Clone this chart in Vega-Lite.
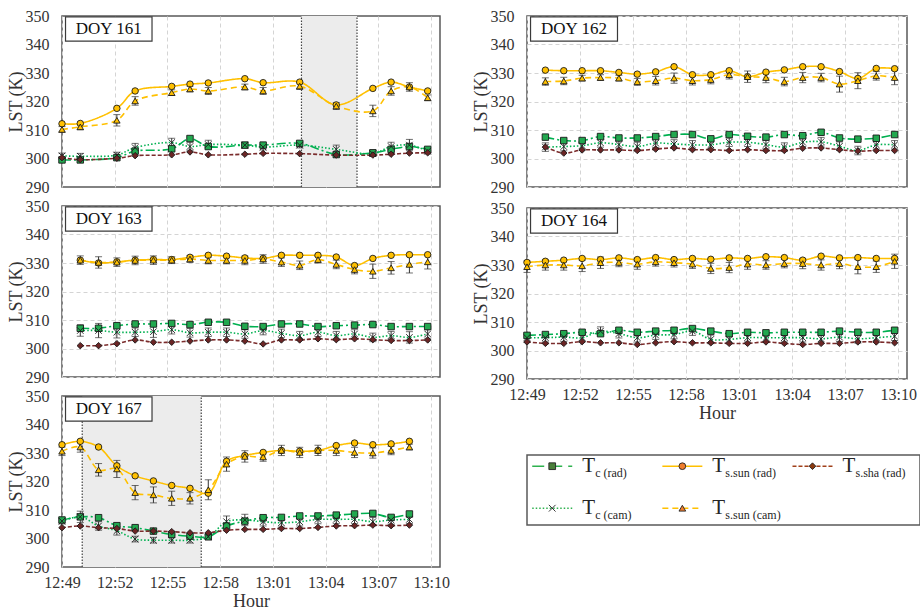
{
"$schema": "https://vega.github.io/schema/vega-lite/v6.json",
"background": "white",
"padding": {"left": 6, "top": 7, "right": 0, "bottom": 0},
"datasets": {
"shade": [{"doy":161,"t":62.62,"t2":65.78},{"doy":167,"t":50.15,"t2":56.92}],
"labels": [{"doy":161,"label":"DOY 161"},{"doy":162,"label":"DOY 162"},{"doy":163,"label":"DOY 163"},{"doy":164,"label":"DOY 164"},{"doy":167,"label":"DOY 167"}],
"legend": [
{"s":"Tc_rad","var":"Tc","src":"rad","main":"T","sub":"c (rad)"},
{"s":"Tsun_rad","var":"Tsun","src":"rad","main":"T","sub":"s.sun (rad)"},
{"s":"Tsha_rad","var":"Tsha","src":"rad","main":"T","sub":"s.sha (rad)"},
{"s":"Tc_cam","var":"Tc","src":"cam","main":"T","sub":"c (cam)"},
{"s":"Tsun_cam","var":"Tsun","src":"cam","main":"T","sub":"s.sun (cam)"}
],
"lst": [
{"doy":161,"t":49,"s":"Tc_rad","v":299.5},{"doy":161,"t":50.04,"s":"Tc_rad","v":299.5},{"doy":161,"t":52.12,"s":"Tc_rad","v":300.3},{"doy":161,"t":53.16,"s":"Tc_rad","v":302.6},{"doy":161,"t":55.24,"s":"Tc_rad","v":303.4},{"doy":161,"t":56.28,"s":"Tc_rad","v":307.0},{"doy":161,"t":57.32,"s":"Tc_rad","v":304.2},{"doy":161,"t":59.4,"s":"Tc_rad","v":304.7},{"doy":161,"t":60.44,"s":"Tc_rad","v":304.7},{"doy":161,"t":62.52,"s":"Tc_rad","v":305.3},{"doy":161,"t":64.6,"s":"Tc_rad","v":301.4},{"doy":161,"t":66.68,"s":"Tc_rad","v":302.0},{"doy":161,"t":67.72,"s":"Tc_rad","v":303.2},{"doy":161,"t":68.76,"s":"Tc_rad","v":304.2},{"doy":161,"t":69.8,"s":"Tc_rad","v":303.2},
{"doy":161,"t":49,"s":"Tc_cam","v":300.9,"e":1},{"doy":161,"t":50.04,"s":"Tc_cam","v":300.8,"e":1},{"doy":161,"t":52.12,"s":"Tc_cam","v":301.2,"e":1},{"doy":161,"t":53.16,"s":"Tc_cam","v":303.8,"e":1.5},{"doy":161,"t":55.24,"s":"Tc_cam","v":305.6,"e":1.5},{"doy":161,"t":56.28,"s":"Tc_cam","v":304.2,"e":1.5},{"doy":161,"t":57.32,"s":"Tc_cam","v":304.9,"e":1.5},{"doy":161,"t":59.4,"s":"Tc_cam","v":304.7,"e":1},{"doy":161,"t":60.44,"s":"Tc_cam","v":304.0,"e":1},{"doy":161,"t":62.52,"s":"Tc_cam","v":304.7,"e":1},{"doy":161,"t":64.6,"s":"Tc_cam","v":303.2,"e":1.5},{"doy":161,"t":66.68,"s":"Tc_cam","v":301.7,"e":1},{"doy":161,"t":67.72,"s":"Tc_cam","v":304.2,"e":1.5},{"doy":161,"t":68.76,"s":"Tc_cam","v":304.7,"e":2},{"doy":161,"t":69.8,"s":"Tc_cam","v":302.6,"e":1},
{"doy":161,"t":49,"s":"Tsun_rad","v":312.2},{"doy":161,"t":50.04,"s":"Tsun_rad","v":312.3},{"doy":161,"t":52.12,"s":"Tsun_rad","v":317.6},{"doy":161,"t":53.16,"s":"Tsun_rad","v":323.7},{"doy":161,"t":55.24,"s":"Tsun_rad","v":325.3},{"doy":161,"t":56.28,"s":"Tsun_rad","v":326.1},{"doy":161,"t":57.32,"s":"Tsun_rad","v":326.5},{"doy":161,"t":59.4,"s":"Tsun_rad","v":328.0},{"doy":161,"t":60.44,"s":"Tsun_rad","v":326.6},{"doy":161,"t":62.52,"s":"Tsun_rad","v":326.8},{"doy":161,"t":64.6,"s":"Tsun_rad","v":318.8},{"doy":161,"t":66.68,"s":"Tsun_rad","v":324.6},{"doy":161,"t":67.72,"s":"Tsun_rad","v":326.8},{"doy":161,"t":68.76,"s":"Tsun_rad","v":325.1},{"doy":161,"t":69.8,"s":"Tsun_rad","v":323.7},
{"doy":161,"t":49,"s":"Tsun_cam","v":310.2,"e":1},{"doy":161,"t":50.04,"s":"Tsun_cam","v":311.1,"e":1},{"doy":161,"t":52.12,"s":"Tsun_cam","v":313.4,"e":2},{"doy":161,"t":53.16,"s":"Tsun_cam","v":320.2,"e":1.5},{"doy":161,"t":55.24,"s":"Tsun_cam","v":323.1,"e":1},{"doy":161,"t":56.28,"s":"Tsun_cam","v":324.4,"e":1},{"doy":161,"t":57.32,"s":"Tsun_cam","v":323.7,"e":1.2},{"doy":161,"t":59.4,"s":"Tsun_cam","v":325.1,"e":1},{"doy":161,"t":60.44,"s":"Tsun_cam","v":323.7,"e":1.2},{"doy":161,"t":62.52,"s":"Tsun_cam","v":325.4,"e":1.2},{"doy":161,"t":64.6,"s":"Tsun_cam","v":318.4,"e":1.2},{"doy":161,"t":66.68,"s":"Tsun_cam","v":316.7,"e":2},{"doy":161,"t":67.72,"s":"Tsun_cam","v":323.7,"e":1.5},{"doy":161,"t":68.76,"s":"Tsun_cam","v":325.1,"e":1.5},{"doy":161,"t":69.8,"s":"Tsun_cam","v":321.3,"e":1},
{"doy":161,"t":49,"s":"Tsha_rad","v":300.3},{"doy":161,"t":50.04,"s":"Tsha_rad","v":299.6},{"doy":161,"t":52.12,"s":"Tsha_rad","v":300.1},{"doy":161,"t":53.16,"s":"Tsha_rad","v":301.0},{"doy":161,"t":55.24,"s":"Tsha_rad","v":301.3},{"doy":161,"t":56.28,"s":"Tsha_rad","v":302.3},{"doy":161,"t":57.32,"s":"Tsha_rad","v":301.3},{"doy":161,"t":59.4,"s":"Tsha_rad","v":301.5},{"doy":161,"t":60.44,"s":"Tsha_rad","v":301.8},{"doy":161,"t":62.52,"s":"Tsha_rad","v":301.7},{"doy":161,"t":64.6,"s":"Tsha_rad","v":301.2},{"doy":161,"t":66.68,"s":"Tsha_rad","v":301.2},{"doy":161,"t":67.72,"s":"Tsha_rad","v":301.5},{"doy":161,"t":68.76,"s":"Tsha_rad","v":301.9},{"doy":161,"t":69.8,"s":"Tsha_rad","v":302.0},

{"doy":162,"t":50.04,"s":"Tsun_rad","v":331.0},{"doy":162,"t":51.08,"s":"Tsun_rad","v":330.8},{"doy":162,"t":52.12,"s":"Tsun_rad","v":330.8},{"doy":162,"t":53.16,"s":"Tsun_rad","v":330.8},{"doy":162,"t":54.2,"s":"Tsun_rad","v":330.2},{"doy":162,"t":55.24,"s":"Tsun_rad","v":329.6},{"doy":162,"t":56.28,"s":"Tsun_rad","v":330.4},{"doy":162,"t":57.32,"s":"Tsun_rad","v":332.2},{"doy":162,"t":58.36,"s":"Tsun_rad","v":329.4},{"doy":162,"t":59.4,"s":"Tsun_rad","v":329.4},{"doy":162,"t":60.44,"s":"Tsun_rad","v":330.8},{"doy":162,"t":61.48,"s":"Tsun_rad","v":328.7},{"doy":162,"t":62.52,"s":"Tsun_rad","v":330.3},{"doy":162,"t":63.56,"s":"Tsun_rad","v":331.1},{"doy":162,"t":64.6,"s":"Tsun_rad","v":332.2},{"doy":162,"t":65.64,"s":"Tsun_rad","v":332.2},{"doy":162,"t":66.68,"s":"Tsun_rad","v":330.5},{"doy":162,"t":67.72,"s":"Tsun_rad","v":328.1},{"doy":162,"t":68.76,"s":"Tsun_rad","v":331.6},{"doy":162,"t":69.8,"s":"Tsun_rad","v":331.5},
{"doy":162,"t":50.04,"s":"Tsun_cam","v":327.0,"e":1.3},{"doy":162,"t":51.08,"s":"Tsun_cam","v":327.2,"e":1.3},{"doy":162,"t":52.12,"s":"Tsun_cam","v":328.2,"e":1},{"doy":162,"t":53.16,"s":"Tsun_cam","v":328.4,"e":1},{"doy":162,"t":54.2,"s":"Tsun_cam","v":328.2,"e":1},{"doy":162,"t":55.24,"s":"Tsun_cam","v":326.9,"e":1.2},{"doy":162,"t":56.28,"s":"Tsun_cam","v":327.3,"e":1.5},{"doy":162,"t":57.32,"s":"Tsun_cam","v":328.2,"e":1.8},{"doy":162,"t":58.36,"s":"Tsun_cam","v":327.3,"e":1.5},{"doy":162,"t":59.4,"s":"Tsun_cam","v":327.7,"e":1.5},{"doy":162,"t":60.44,"s":"Tsun_cam","v":329.4,"e":1.5},{"doy":162,"t":61.48,"s":"Tsun_cam","v":328.7,"e":2},{"doy":162,"t":62.52,"s":"Tsun_cam","v":328.4,"e":1.8},{"doy":162,"t":63.56,"s":"Tsun_cam","v":327.0,"e":1.5},{"doy":162,"t":64.6,"s":"Tsun_cam","v":328.4,"e":1.8},{"doy":162,"t":65.64,"s":"Tsun_cam","v":328.4,"e":1.5},{"doy":162,"t":66.68,"s":"Tsun_cam","v":326.1,"e":2.8},{"doy":162,"t":67.72,"s":"Tsun_cam","v":327.3,"e":2.8},{"doy":162,"t":68.76,"s":"Tsun_cam","v":329.0,"e":1.5},{"doy":162,"t":69.8,"s":"Tsun_cam","v":328.4,"e":2.5},
{"doy":162,"t":50.04,"s":"Tc_rad","v":307.5},{"doy":162,"t":51.08,"s":"Tc_rad","v":306.3},{"doy":162,"t":52.12,"s":"Tc_rad","v":306.3},{"doy":162,"t":53.16,"s":"Tc_rad","v":307.7},{"doy":162,"t":54.2,"s":"Tc_rad","v":307.2},{"doy":162,"t":55.24,"s":"Tc_rad","v":307.2},{"doy":162,"t":56.28,"s":"Tc_rad","v":307.7},{"doy":162,"t":57.32,"s":"Tc_rad","v":308.4},{"doy":162,"t":58.36,"s":"Tc_rad","v":308.4},{"doy":162,"t":59.4,"s":"Tc_rad","v":306.9},{"doy":162,"t":60.44,"s":"Tc_rad","v":308.4},{"doy":162,"t":61.48,"s":"Tc_rad","v":307.8},{"doy":162,"t":62.52,"s":"Tc_rad","v":307.5},{"doy":162,"t":63.56,"s":"Tc_rad","v":308.4},{"doy":162,"t":64.6,"s":"Tc_rad","v":308.0},{"doy":162,"t":65.64,"s":"Tc_rad","v":309.2},{"doy":162,"t":66.68,"s":"Tc_rad","v":307.2},{"doy":162,"t":67.72,"s":"Tc_rad","v":306.8},{"doy":162,"t":68.76,"s":"Tc_rad","v":307.1},{"doy":162,"t":69.8,"s":"Tc_rad","v":308.4},
{"doy":162,"t":50.04,"s":"Tc_cam","v":304.0,"e":1.5},{"doy":162,"t":51.08,"s":"Tc_cam","v":304.2,"e":1.5},{"doy":162,"t":52.12,"s":"Tc_cam","v":304.5,"e":1.5},{"doy":162,"t":53.16,"s":"Tc_cam","v":305.5,"e":1.5},{"doy":162,"t":54.2,"s":"Tc_cam","v":304.9,"e":1.5},{"doy":162,"t":55.24,"s":"Tc_cam","v":304.2,"e":1.5},{"doy":162,"t":56.28,"s":"Tc_cam","v":305.4,"e":1.5},{"doy":162,"t":57.32,"s":"Tc_cam","v":305.1,"e":1.5},{"doy":162,"t":58.36,"s":"Tc_cam","v":304.8,"e":1.5},{"doy":162,"t":59.4,"s":"Tc_cam","v":304.8,"e":1.5},{"doy":162,"t":60.44,"s":"Tc_cam","v":305.7,"e":1.5},{"doy":162,"t":61.48,"s":"Tc_cam","v":305.7,"e":1.5},{"doy":162,"t":62.52,"s":"Tc_cam","v":304.9,"e":1.5},{"doy":162,"t":63.56,"s":"Tc_cam","v":304.0,"e":1.5},{"doy":162,"t":64.6,"s":"Tc_cam","v":305.7,"e":1.5},{"doy":162,"t":65.64,"s":"Tc_cam","v":305.9,"e":1.5},{"doy":162,"t":66.68,"s":"Tc_cam","v":304.3,"e":1.5},{"doy":162,"t":67.72,"s":"Tc_cam","v":302.8,"e":1.5},{"doy":162,"t":68.76,"s":"Tc_cam","v":304.8,"e":1.5},{"doy":162,"t":69.8,"s":"Tc_cam","v":304.8,"e":1.5},
{"doy":162,"t":50.04,"s":"Tsha_rad","v":304.0},{"doy":162,"t":51.08,"s":"Tsha_rad","v":301.9},{"doy":162,"t":52.12,"s":"Tsha_rad","v":303.0},{"doy":162,"t":53.16,"s":"Tsha_rad","v":303.0},{"doy":162,"t":54.2,"s":"Tsha_rad","v":303.0},{"doy":162,"t":55.24,"s":"Tsha_rad","v":302.8},{"doy":162,"t":56.28,"s":"Tsha_rad","v":303.3},{"doy":162,"t":57.32,"s":"Tsha_rad","v":303.7},{"doy":162,"t":58.36,"s":"Tsha_rad","v":303.1},{"doy":162,"t":59.4,"s":"Tsha_rad","v":303.1},{"doy":162,"t":60.44,"s":"Tsha_rad","v":302.8},{"doy":162,"t":61.48,"s":"Tsha_rad","v":303.1},{"doy":162,"t":62.52,"s":"Tsha_rad","v":302.8},{"doy":162,"t":63.56,"s":"Tsha_rad","v":302.8},{"doy":162,"t":64.6,"s":"Tsha_rad","v":303.6},{"doy":162,"t":65.64,"s":"Tsha_rad","v":303.7},{"doy":162,"t":66.68,"s":"Tsha_rad","v":303.1},{"doy":162,"t":67.72,"s":"Tsha_rad","v":302.6},{"doy":162,"t":68.76,"s":"Tsha_rad","v":302.8},{"doy":162,"t":69.8,"s":"Tsha_rad","v":302.8},

{"doy":163,"t":50.04,"s":"Tsun_rad","v":331.0},{"doy":163,"t":51.08,"s":"Tsun_rad","v":330.0},{"doy":163,"t":52.12,"s":"Tsun_rad","v":330.4},{"doy":163,"t":53.16,"s":"Tsun_rad","v":331.0},{"doy":163,"t":54.2,"s":"Tsun_rad","v":331.2},{"doy":163,"t":55.24,"s":"Tsun_rad","v":331.2},{"doy":163,"t":56.28,"s":"Tsun_rad","v":332.0},{"doy":163,"t":57.32,"s":"Tsun_rad","v":332.7},{"doy":163,"t":58.36,"s":"Tsun_rad","v":332.4},{"doy":163,"t":59.4,"s":"Tsun_rad","v":331.8},{"doy":163,"t":60.44,"s":"Tsun_rad","v":331.6},{"doy":163,"t":61.48,"s":"Tsun_rad","v":332.7},{"doy":163,"t":62.52,"s":"Tsun_rad","v":332.7},{"doy":163,"t":63.56,"s":"Tsun_rad","v":332.7},{"doy":163,"t":64.6,"s":"Tsun_rad","v":332.1},{"doy":163,"t":65.64,"s":"Tsun_rad","v":329.1},{"doy":163,"t":66.68,"s":"Tsun_rad","v":331.6},{"doy":163,"t":67.72,"s":"Tsun_rad","v":332.7},{"doy":163,"t":68.76,"s":"Tsun_rad","v":332.9},{"doy":163,"t":69.8,"s":"Tsun_rad","v":332.9},
{"doy":163,"t":50.04,"s":"Tsun_cam","v":331.0,"e":1.5},{"doy":163,"t":51.08,"s":"Tsun_cam","v":330.2,"e":2},{"doy":163,"t":52.12,"s":"Tsun_cam","v":330.3,"e":1.5},{"doy":163,"t":53.16,"s":"Tsun_cam","v":330.9,"e":1.5},{"doy":163,"t":54.2,"s":"Tsun_cam","v":331.0,"e":1.5},{"doy":163,"t":55.24,"s":"Tsun_cam","v":331.0,"e":1.2},{"doy":163,"t":56.28,"s":"Tsun_cam","v":331.4,"e":1.2},{"doy":163,"t":57.32,"s":"Tsun_cam","v":330.9,"e":1.2},{"doy":163,"t":58.36,"s":"Tsun_cam","v":330.9,"e":1.2},{"doy":163,"t":59.4,"s":"Tsun_cam","v":330.9,"e":1.5},{"doy":163,"t":60.44,"s":"Tsun_cam","v":331.4,"e":1.5},{"doy":163,"t":61.48,"s":"Tsun_cam","v":330.3,"e":1.5},{"doy":163,"t":62.52,"s":"Tsun_cam","v":329.2,"e":1.5},{"doy":163,"t":63.56,"s":"Tsun_cam","v":331.2,"e":1.2},{"doy":163,"t":64.6,"s":"Tsun_cam","v":329.5,"e":1.5},{"doy":163,"t":65.64,"s":"Tsun_cam","v":327.7,"e":1.5},{"doy":163,"t":66.68,"s":"Tsun_cam","v":327.1,"e":2.5},{"doy":163,"t":67.72,"s":"Tsun_cam","v":328.3,"e":2.2},{"doy":163,"t":68.76,"s":"Tsun_cam","v":329.5,"e":3},{"doy":163,"t":69.8,"s":"Tsun_cam","v":330.4,"e":2.5},
{"doy":163,"t":50.04,"s":"Tc_rad","v":307.1},{"doy":163,"t":51.08,"s":"Tc_rad","v":307.1},{"doy":163,"t":52.12,"s":"Tc_rad","v":308.0},{"doy":163,"t":53.16,"s":"Tc_rad","v":308.6},{"doy":163,"t":54.2,"s":"Tc_rad","v":308.6},{"doy":163,"t":55.24,"s":"Tc_rad","v":308.8},{"doy":163,"t":56.28,"s":"Tc_rad","v":308.4},{"doy":163,"t":57.32,"s":"Tc_rad","v":309.2},{"doy":163,"t":58.36,"s":"Tc_rad","v":309.2},{"doy":163,"t":59.4,"s":"Tc_rad","v":307.8},{"doy":163,"t":60.44,"s":"Tc_rad","v":307.7},{"doy":163,"t":61.48,"s":"Tc_rad","v":308.6},{"doy":163,"t":62.52,"s":"Tc_rad","v":308.6},{"doy":163,"t":63.56,"s":"Tc_rad","v":307.7},{"doy":163,"t":64.6,"s":"Tc_rad","v":308.0},{"doy":163,"t":65.64,"s":"Tc_rad","v":308.2},{"doy":163,"t":66.68,"s":"Tc_rad","v":308.4},{"doy":163,"t":67.72,"s":"Tc_rad","v":307.7},{"doy":163,"t":68.76,"s":"Tc_rad","v":307.7},{"doy":163,"t":69.8,"s":"Tc_rad","v":307.7},
{"doy":163,"t":50.04,"s":"Tc_cam","v":306.3,"e":2},{"doy":163,"t":51.08,"s":"Tc_cam","v":306.3,"e":2.5},{"doy":163,"t":52.12,"s":"Tc_cam","v":305.7,"e":2},{"doy":163,"t":53.16,"s":"Tc_cam","v":305.7,"e":1.5},{"doy":163,"t":54.2,"s":"Tc_cam","v":305.9,"e":2},{"doy":163,"t":55.24,"s":"Tc_cam","v":306.6,"e":1.5},{"doy":163,"t":56.28,"s":"Tc_cam","v":305.5,"e":1.5},{"doy":163,"t":57.32,"s":"Tc_cam","v":305.7,"e":1.5},{"doy":163,"t":58.36,"s":"Tc_cam","v":305.7,"e":1.5},{"doy":163,"t":59.4,"s":"Tc_cam","v":305.1,"e":1.5},{"doy":163,"t":60.44,"s":"Tc_cam","v":306.3,"e":1.5},{"doy":163,"t":61.48,"s":"Tc_cam","v":305.3,"e":1.5},{"doy":163,"t":62.52,"s":"Tc_cam","v":304.5,"e":1.5},{"doy":163,"t":63.56,"s":"Tc_cam","v":305.7,"e":1.5},{"doy":163,"t":64.6,"s":"Tc_cam","v":304.5,"e":1.5},{"doy":163,"t":65.64,"s":"Tc_cam","v":305.1,"e":1.5},{"doy":163,"t":66.68,"s":"Tc_cam","v":303.9,"e":1.5},{"doy":163,"t":67.72,"s":"Tc_cam","v":304.5,"e":1.5},{"doy":163,"t":68.76,"s":"Tc_cam","v":303.9,"e":2},{"doy":163,"t":69.8,"s":"Tc_cam","v":305.1,"e":1.5},
{"doy":163,"t":50.04,"s":"Tsha_rad","v":301.0},{"doy":163,"t":51.08,"s":"Tsha_rad","v":301.0},{"doy":163,"t":52.12,"s":"Tsha_rad","v":301.7},{"doy":163,"t":53.16,"s":"Tsha_rad","v":303.0},{"doy":163,"t":54.2,"s":"Tsha_rad","v":302.2},{"doy":163,"t":55.24,"s":"Tsha_rad","v":302.2},{"doy":163,"t":56.28,"s":"Tsha_rad","v":302.6},{"doy":163,"t":57.32,"s":"Tsha_rad","v":303.0},{"doy":163,"t":58.36,"s":"Tsha_rad","v":303.0},{"doy":163,"t":59.4,"s":"Tsha_rad","v":302.6},{"doy":163,"t":60.44,"s":"Tsha_rad","v":301.6},{"doy":163,"t":61.48,"s":"Tsha_rad","v":303.0},{"doy":163,"t":62.52,"s":"Tsha_rad","v":303.0},{"doy":163,"t":63.56,"s":"Tsha_rad","v":303.4},{"doy":163,"t":64.6,"s":"Tsha_rad","v":303.1},{"doy":163,"t":65.64,"s":"Tsha_rad","v":303.4},{"doy":163,"t":66.68,"s":"Tsha_rad","v":303.1},{"doy":163,"t":67.72,"s":"Tsha_rad","v":302.8},{"doy":163,"t":68.76,"s":"Tsha_rad","v":302.8},{"doy":163,"t":69.8,"s":"Tsha_rad","v":303.0},

{"doy":164,"t":49,"s":"Tsun_rad","v":330.9},{"doy":164,"t":50.04,"s":"Tsun_rad","v":331.3},{"doy":164,"t":51.08,"s":"Tsun_rad","v":331.7},{"doy":164,"t":52.12,"s":"Tsun_rad","v":332.3},{"doy":164,"t":53.16,"s":"Tsun_rad","v":331.9},{"doy":164,"t":54.2,"s":"Tsun_rad","v":332.5},{"doy":164,"t":55.24,"s":"Tsun_rad","v":331.9},{"doy":164,"t":56.28,"s":"Tsun_rad","v":332.6},{"doy":164,"t":57.32,"s":"Tsun_rad","v":331.9},{"doy":164,"t":58.36,"s":"Tsun_rad","v":332.3},{"doy":164,"t":59.4,"s":"Tsun_rad","v":332.0},{"doy":164,"t":60.44,"s":"Tsun_rad","v":332.5},{"doy":164,"t":61.48,"s":"Tsun_rad","v":332.3},{"doy":164,"t":62.52,"s":"Tsun_rad","v":332.9},{"doy":164,"t":63.56,"s":"Tsun_rad","v":332.6},{"doy":164,"t":64.6,"s":"Tsun_rad","v":331.7},{"doy":164,"t":65.64,"s":"Tsun_rad","v":333.1},{"doy":164,"t":66.68,"s":"Tsun_rad","v":332.5},{"doy":164,"t":67.72,"s":"Tsun_rad","v":332.6},{"doy":164,"t":68.76,"s":"Tsun_rad","v":332.3},{"doy":164,"t":69.8,"s":"Tsun_rad","v":332.3},
{"doy":164,"t":49,"s":"Tsun_cam","v":329.4,"e":2},{"doy":164,"t":50.04,"s":"Tsun_cam","v":330.0,"e":1.8},{"doy":164,"t":51.08,"s":"Tsun_cam","v":330.0,"e":1.8},{"doy":164,"t":52.12,"s":"Tsun_cam","v":329.7,"e":2},{"doy":164,"t":53.16,"s":"Tsun_cam","v":330.8,"e":2},{"doy":164,"t":54.2,"s":"Tsun_cam","v":330.9,"e":1.5},{"doy":164,"t":55.24,"s":"Tsun_cam","v":330.3,"e":1.8},{"doy":164,"t":56.28,"s":"Tsun_cam","v":331.1,"e":1.5},{"doy":164,"t":57.32,"s":"Tsun_cam","v":330.8,"e":1.5},{"doy":164,"t":58.36,"s":"Tsun_cam","v":330.3,"e":1.5},{"doy":164,"t":59.4,"s":"Tsun_cam","v":328.8,"e":1.8},{"doy":164,"t":60.44,"s":"Tsun_cam","v":329.1,"e":1.8},{"doy":164,"t":61.48,"s":"Tsun_cam","v":330.3,"e":1.8},{"doy":164,"t":62.52,"s":"Tsun_cam","v":330.0,"e":1.5},{"doy":164,"t":63.56,"s":"Tsun_cam","v":330.5,"e":1.5},{"doy":164,"t":64.6,"s":"Tsun_cam","v":330.5,"e":1.8},{"doy":164,"t":65.64,"s":"Tsun_cam","v":330.0,"e":1.8},{"doy":164,"t":66.68,"s":"Tsun_cam","v":330.5,"e":1.8},{"doy":164,"t":67.72,"s":"Tsun_cam","v":329.4,"e":2.5},{"doy":164,"t":68.76,"s":"Tsun_cam","v":329.4,"e":2},{"doy":164,"t":69.8,"s":"Tsun_cam","v":331.3,"e":2.5},
{"doy":164,"t":49,"s":"Tc_rad","v":305.3},{"doy":164,"t":50.04,"s":"Tc_rad","v":305.6},{"doy":164,"t":51.08,"s":"Tc_rad","v":305.9},{"doy":164,"t":52.12,"s":"Tc_rad","v":306.4},{"doy":164,"t":53.16,"s":"Tc_rad","v":305.9},{"doy":164,"t":54.2,"s":"Tc_rad","v":307.1},{"doy":164,"t":55.24,"s":"Tc_rad","v":306.4},{"doy":164,"t":56.28,"s":"Tc_rad","v":306.8},{"doy":164,"t":57.32,"s":"Tc_rad","v":307.1},{"doy":164,"t":58.36,"s":"Tc_rad","v":307.7},{"doy":164,"t":59.4,"s":"Tc_rad","v":306.8},{"doy":164,"t":60.44,"s":"Tc_rad","v":305.9},{"doy":164,"t":61.48,"s":"Tc_rad","v":306.4},{"doy":164,"t":62.52,"s":"Tc_rad","v":306.2},{"doy":164,"t":63.56,"s":"Tc_rad","v":306.4},{"doy":164,"t":64.6,"s":"Tc_rad","v":306.4},{"doy":164,"t":65.64,"s":"Tc_rad","v":306.4},{"doy":164,"t":66.68,"s":"Tc_rad","v":306.8},{"doy":164,"t":67.72,"s":"Tc_rad","v":306.4},{"doy":164,"t":68.76,"s":"Tc_rad","v":306.4},{"doy":164,"t":69.8,"s":"Tc_rad","v":307.1},
{"doy":164,"t":49,"s":"Tc_cam","v":304.5,"e":1.5},{"doy":164,"t":50.04,"s":"Tc_cam","v":304.5,"e":1.5},{"doy":164,"t":51.08,"s":"Tc_cam","v":304.7,"e":1.5},{"doy":164,"t":52.12,"s":"Tc_cam","v":304.5,"e":1.5},{"doy":164,"t":53.16,"s":"Tc_cam","v":306.8,"e":1.5},{"doy":164,"t":54.2,"s":"Tc_cam","v":305.9,"e":1.5},{"doy":164,"t":55.24,"s":"Tc_cam","v":304.5,"e":1.5},{"doy":164,"t":56.28,"s":"Tc_cam","v":305.4,"e":1.5},{"doy":164,"t":57.32,"s":"Tc_cam","v":305.6,"e":1.5},{"doy":164,"t":58.36,"s":"Tc_cam","v":306.8,"e":1.5},{"doy":164,"t":59.4,"s":"Tc_cam","v":303.9,"e":1.5},{"doy":164,"t":60.44,"s":"Tc_cam","v":303.9,"e":1.5},{"doy":164,"t":61.48,"s":"Tc_cam","v":304.5,"e":1.5},{"doy":164,"t":62.52,"s":"Tc_cam","v":304.5,"e":1.5},{"doy":164,"t":63.56,"s":"Tc_cam","v":304.5,"e":1.5},{"doy":164,"t":64.6,"s":"Tc_cam","v":304.5,"e":1.5},{"doy":164,"t":65.64,"s":"Tc_cam","v":304.1,"e":1.5},{"doy":164,"t":66.68,"s":"Tc_cam","v":304.7,"e":1.5},{"doy":164,"t":67.72,"s":"Tc_cam","v":304.1,"e":1.5},{"doy":164,"t":68.76,"s":"Tc_cam","v":304.5,"e":1.5},{"doy":164,"t":69.8,"s":"Tc_cam","v":305.0,"e":1.5},
{"doy":164,"t":49,"s":"Tsha_rad","v":303.0},{"doy":164,"t":50.04,"s":"Tsha_rad","v":302.5},{"doy":164,"t":51.08,"s":"Tsha_rad","v":302.5},{"doy":164,"t":52.12,"s":"Tsha_rad","v":303.1},{"doy":164,"t":53.16,"s":"Tsha_rad","v":302.7},{"doy":164,"t":54.2,"s":"Tsha_rad","v":302.7},{"doy":164,"t":55.24,"s":"Tsha_rad","v":302.1},{"doy":164,"t":56.28,"s":"Tsha_rad","v":302.7},{"doy":164,"t":57.32,"s":"Tsha_rad","v":303.1},{"doy":164,"t":58.36,"s":"Tsha_rad","v":302.7},{"doy":164,"t":59.4,"s":"Tsha_rad","v":302.7},{"doy":164,"t":60.44,"s":"Tsha_rad","v":302.5},{"doy":164,"t":61.48,"s":"Tsha_rad","v":302.5},{"doy":164,"t":62.52,"s":"Tsha_rad","v":303.0},{"doy":164,"t":63.56,"s":"Tsha_rad","v":302.5},{"doy":164,"t":64.6,"s":"Tsha_rad","v":302.1},{"doy":164,"t":65.64,"s":"Tsha_rad","v":302.5},{"doy":164,"t":66.68,"s":"Tsha_rad","v":302.5},{"doy":164,"t":67.72,"s":"Tsha_rad","v":303.0},{"doy":164,"t":68.76,"s":"Tsha_rad","v":303.0},{"doy":164,"t":69.8,"s":"Tsha_rad","v":302.7},

{"doy":167,"t":49,"s":"Tsun_rad","v":332.9},{"doy":167,"t":50.04,"s":"Tsun_rad","v":334.1},{"doy":167,"t":51.08,"s":"Tsun_rad","v":332.1},{"doy":167,"t":52.12,"s":"Tsun_rad","v":325.5},{"doy":167,"t":53.16,"s":"Tsun_rad","v":322.0},{"doy":167,"t":54.2,"s":"Tsun_rad","v":320.2},{"doy":167,"t":55.24,"s":"Tsun_rad","v":318.6},{"doy":167,"t":56.28,"s":"Tsun_rad","v":317.6},{"doy":167,"t":57.32,"s":"Tsun_rad","v":315.9},{"doy":167,"t":58.36,"s":"Tsun_rad","v":327.1},{"doy":167,"t":59.4,"s":"Tsun_rad","v":329.1},{"doy":167,"t":60.44,"s":"Tsun_rad","v":330.2},{"doy":167,"t":61.48,"s":"Tsun_rad","v":330.9},{"doy":167,"t":62.52,"s":"Tsun_rad","v":330.6},{"doy":167,"t":63.56,"s":"Tsun_rad","v":330.9},{"doy":167,"t":64.6,"s":"Tsun_rad","v":332.6},{"doy":167,"t":65.64,"s":"Tsun_rad","v":333.5},{"doy":167,"t":66.68,"s":"Tsun_rad","v":332.9},{"doy":167,"t":67.72,"s":"Tsun_rad","v":333.2},{"doy":167,"t":68.76,"s":"Tsun_rad","v":334.1},
{"doy":167,"t":49,"s":"Tsun_cam","v":330.6,"e":1.5},{"doy":167,"t":50.04,"s":"Tsun_cam","v":332.1,"e":1.8},{"doy":167,"t":51.08,"s":"Tsun_cam","v":324.1,"e":2.2},{"doy":167,"t":52.12,"s":"Tsun_cam","v":324.4,"e":3},{"doy":167,"t":53.16,"s":"Tsun_cam","v":316.1,"e":2.5},{"doy":167,"t":54.2,"s":"Tsun_cam","v":315.3,"e":2.8},{"doy":167,"t":55.24,"s":"Tsun_cam","v":314.1,"e":2.5},{"doy":167,"t":56.28,"s":"Tsun_cam","v":314.1,"e":2},{"doy":167,"t":57.32,"s":"Tsun_cam","v":317.1,"e":3.5},{"doy":167,"t":58.36,"s":"Tsun_cam","v":326.1,"e":2.5},{"doy":167,"t":59.4,"s":"Tsun_cam","v":328.8,"e":2},{"doy":167,"t":60.44,"s":"Tsun_cam","v":328.6,"e":1.5},{"doy":167,"t":61.48,"s":"Tsun_cam","v":330.9,"e":1.8},{"doy":167,"t":62.52,"s":"Tsun_cam","v":330.2,"e":1.8},{"doy":167,"t":63.56,"s":"Tsun_cam","v":330.9,"e":1.8},{"doy":167,"t":64.6,"s":"Tsun_cam","v":330.9,"e":1.8},{"doy":167,"t":65.64,"s":"Tsun_cam","v":330.2,"e":1.8},{"doy":167,"t":66.68,"s":"Tsun_cam","v":330.0,"e":1.8},{"doy":167,"t":67.72,"s":"Tsun_cam","v":330.9,"e":1.5},{"doy":167,"t":68.76,"s":"Tsun_cam","v":332.1,"e":1},
{"doy":167,"t":49,"s":"Tc_rad","v":306.5},{"doy":167,"t":50.04,"s":"Tc_rad","v":307.6},{"doy":167,"t":51.08,"s":"Tc_rad","v":307.3},{"doy":167,"t":52.12,"s":"Tc_rad","v":304.5},{"doy":167,"t":53.16,"s":"Tc_rad","v":303.8},{"doy":167,"t":54.2,"s":"Tc_rad","v":302.6},{"doy":167,"t":55.24,"s":"Tc_rad","v":301.4},{"doy":167,"t":56.28,"s":"Tc_rad","v":300.8},{"doy":167,"t":57.32,"s":"Tc_rad","v":300.6},{"doy":167,"t":58.36,"s":"Tc_rad","v":304.4},{"doy":167,"t":59.4,"s":"Tc_rad","v":306.1},{"doy":167,"t":60.44,"s":"Tc_rad","v":307.3},{"doy":167,"t":61.48,"s":"Tc_rad","v":307.4},{"doy":167,"t":62.52,"s":"Tc_rad","v":307.9},{"doy":167,"t":63.56,"s":"Tc_rad","v":307.9},{"doy":167,"t":64.6,"s":"Tc_rad","v":308.2},{"doy":167,"t":65.64,"s":"Tc_rad","v":308.6},{"doy":167,"t":66.68,"s":"Tc_rad","v":308.8},{"doy":167,"t":67.72,"s":"Tc_rad","v":307.4},{"doy":167,"t":68.76,"s":"Tc_rad","v":308.6},
{"doy":167,"t":49,"s":"Tc_cam","v":306.1,"e":1},{"doy":167,"t":50.04,"s":"Tc_cam","v":307.6,"e":2},{"doy":167,"t":51.08,"s":"Tc_cam","v":304.4,"e":1.5},{"doy":167,"t":52.12,"s":"Tc_cam","v":302.7,"e":1.5},{"doy":167,"t":53.16,"s":"Tc_cam","v":299.8,"e":1},{"doy":167,"t":54.2,"s":"Tc_cam","v":299.4,"e":1},{"doy":167,"t":55.24,"s":"Tc_cam","v":299.4,"e":1},{"doy":167,"t":56.28,"s":"Tc_cam","v":299.4,"e":1},{"doy":167,"t":57.32,"s":"Tc_cam","v":300.6,"e":1},{"doy":167,"t":58.36,"s":"Tc_cam","v":305.9,"e":2},{"doy":167,"t":59.4,"s":"Tc_cam","v":306.5,"e":2},{"doy":167,"t":60.44,"s":"Tc_cam","v":305.9,"e":1.5},{"doy":167,"t":61.48,"s":"Tc_cam","v":305.5,"e":1.5},{"doy":167,"t":62.52,"s":"Tc_cam","v":305.9,"e":1.5},{"doy":167,"t":63.56,"s":"Tc_cam","v":306.7,"e":1.5},{"doy":167,"t":64.6,"s":"Tc_cam","v":306.7,"e":1.5},{"doy":167,"t":65.64,"s":"Tc_cam","v":306.7,"e":1.5},{"doy":167,"t":66.68,"s":"Tc_cam","v":305.9,"e":1.5},{"doy":167,"t":67.72,"s":"Tc_cam","v":306.5,"e":1.5},{"doy":167,"t":68.76,"s":"Tc_cam","v":306.7,"e":1.5},
{"doy":167,"t":49,"s":"Tsha_rad","v":303.8},{"doy":167,"t":50.04,"s":"Tsha_rad","v":304.4},{"doy":167,"t":51.08,"s":"Tsha_rad","v":303.8},{"doy":167,"t":52.12,"s":"Tsha_rad","v":303.5},{"doy":167,"t":53.16,"s":"Tsha_rad","v":302.6},{"doy":167,"t":54.2,"s":"Tsha_rad","v":302.6},{"doy":167,"t":55.24,"s":"Tsha_rad","v":302.4},{"doy":167,"t":56.28,"s":"Tsha_rad","v":302.0},{"doy":167,"t":57.32,"s":"Tsha_rad","v":302.0},{"doy":167,"t":58.36,"s":"Tsha_rad","v":302.9},{"doy":167,"t":59.4,"s":"Tsha_rad","v":303.2},{"doy":167,"t":60.44,"s":"Tsha_rad","v":303.2},{"doy":167,"t":61.48,"s":"Tsha_rad","v":303.5},{"doy":167,"t":62.52,"s":"Tsha_rad","v":303.5},{"doy":167,"t":63.56,"s":"Tsha_rad","v":303.9},{"doy":167,"t":64.6,"s":"Tsha_rad","v":304.4},{"doy":167,"t":65.64,"s":"Tsha_rad","v":304.5},{"doy":167,"t":66.68,"s":"Tsha_rad","v":304.7},{"doy":167,"t":67.72,"s":"Tsha_rad","v":304.5},{"doy":167,"t":68.76,"s":"Tsha_rad","v":304.7}
]
},
"hconcat": [
{
"vconcat": [
{
"width": 378, "height": 171,
"layer": [
{"data": {"name": "shade"}, "transform": [{"filter": "datum.doy == 161"}], "mark": {"type": "rect", "fill": "#ececec"},
 "encoding": {"x": {"field": "t", "type": "quantitative", "scale": {"domain": [49, 70.5], "nice": false, "zero": false}, "axis": {"values": [49,52,55,58,61,64,67,70], "labels": false, "title": null, "grid": true}}, "x2": {"field": "t2"},
  "y": {"datum": 290, "type": "quantitative", "scale": {"domain": [290, 350], "nice": false, "zero": false}, "axis": {"values": [290,300,310,320,330,340,350], "title": "LST (K)", "labelFlush": false, "labelOverlap": false, "labelPadding": 13, "titlePadding": 0}}, "y2": {"datum": 350}}},
{"data": {"name": "shade"}, "transform": [{"filter": "datum.doy == 161"}], "mark": {"type": "rule", "color": "#444444", "strokeDash": [1.5, 1.5], "strokeWidth": 1.2},
 "encoding": {"x": {"field": "t", "type": "quantitative", "scale": {"domain": [49, 70.5], "nice": false, "zero": false}, "axis": {"values": [49,52,55,58,61,64,67,70], "labels": false, "title": null, "grid": true}},
  "y": {"datum": 290, "type": "quantitative", "scale": {"domain": [290, 350], "nice": false, "zero": false}, "axis": {"values": [290,300,310,320,330,340,350], "title": "LST (K)", "labelFlush": false, "labelOverlap": false, "labelPadding": 13, "titlePadding": 0}}, "y2": {"datum": 350}}},
{"data": {"name": "shade"}, "transform": [{"filter": "datum.doy == 161"}], "mark": {"type": "rule", "color": "#444444", "strokeDash": [1.5, 1.5], "strokeWidth": 1.2},
 "encoding": {"x": {"field": "t2", "type": "quantitative", "scale": {"domain": [49, 70.5], "nice": false, "zero": false}, "axis": {"values": [49,52,55,58,61,64,67,70], "labels": false, "title": null, "grid": true}},
  "y": {"datum": 290, "type": "quantitative", "scale": {"domain": [290, 350], "nice": false, "zero": false}, "axis": {"values": [290,300,310,320,330,340,350], "title": "LST (K)", "labelFlush": false, "labelOverlap": false, "labelPadding": 13, "titlePadding": 0}}, "y2": {"datum": 350}}},
{"data": {"name": "lst"}, "transform": [{"filter": "datum.doy == 161 && isValid(datum.e)"}], "mark": {"type": "errorbar", "color": "#333333", "thickness": 1, "ticks": {"size": 7}},
 "encoding": {"x": {"field": "t", "type": "quantitative", "scale": {"domain": [49, 70.5], "nice": false, "zero": false}, "axis": {"values": [49,52,55,58,61,64,67,70], "labels": false, "title": null, "grid": true}},
  "y": {"field": "v", "type": "quantitative", "scale": {"domain": [290, 350], "nice": false, "zero": false}, "axis": {"values": [290,300,310,320,330,340,350], "title": "LST (K)", "labelFlush": false, "labelOverlap": false, "labelPadding": 13, "titlePadding": 0}}, "yError": {"field": "e"}}},
{"data": {"name": "lst"}, "transform": [{"filter": "datum.doy == 161"}], "mark": {"type": "line", "interpolate": "catmull-rom", "strokeWidth": 1.6},
 "encoding": {"x": {"field": "t", "type": "quantitative", "scale": {"domain": [49, 70.5], "nice": false, "zero": false}, "axis": {"values": [49,52,55,58,61,64,67,70], "labels": false, "title": null, "grid": true}},
  "y": {"field": "v", "type": "quantitative", "scale": {"domain": [290, 350], "nice": false, "zero": false}, "axis": {"values": [290,300,310,320,330,340,350], "title": "LST (K)", "labelFlush": false, "labelOverlap": false, "labelPadding": 13, "titlePadding": 0}},
  "color": {"field": "s", "type": "nominal", "legend": null, "scale": {"domain": ["Tc_rad","Tc_cam","Tsun_rad","Tsun_cam","Tsha_rad"], "range": ["#00b050","#00b050","#ffc000","#ffc000","#7b2c2c"]}},
  "strokeDash": {"field": "s", "type": "nominal", "legend": null, "scale": {"domain": ["Tc_rad","Tc_cam","Tsun_rad","Tsun_cam","Tsha_rad"], "range": [[9,3,2,3],[1.5,2],[1,0],[6,4],[4,2]]}}}},
{"data": {"name": "lst"}, "transform": [{"filter": "datum.doy == 161"}], "mark": {"type": "point", "filled": true, "size": 42, "stroke": "#1a1a1a", "strokeWidth": 0.9, "opacity": 1},
 "encoding": {"x": {"field": "t", "type": "quantitative", "scale": {"domain": [49, 70.5], "nice": false, "zero": false}, "axis": {"values": [49,52,55,58,61,64,67,70], "labels": false, "title": null, "grid": true}},
  "y": {"field": "v", "type": "quantitative", "scale": {"domain": [290, 350], "nice": false, "zero": false}, "axis": {"values": [290,300,310,320,330,340,350], "title": "LST (K)", "labelFlush": false, "labelOverlap": false, "labelPadding": 13, "titlePadding": 0}},
  "shape": {"field": "s", "type": "nominal", "legend": null, "scale": {"domain": ["Tc_rad","Tc_cam","Tsun_rad","Tsun_cam","Tsha_rad"], "range": ["square","M-1,-1L1,1M-1,1L1,-1","circle","triangle-up","diamond"]}},
  "fill": {"field": "s", "type": "nominal", "legend": null, "scale": {"domain": ["Tc_rad","Tc_cam","Tsun_rad","Tsun_cam","Tsha_rad"], "range": ["#22a84f","#333333","#ffc000","#ffc000","#6b2525"]}}}},
{"data": {"name": "labels"}, "transform": [{"filter": "datum.doy == 161"}], "mark": {"type": "rect", "fill": "white", "stroke": "#3a3a3a", "strokeWidth": 1.2},
 "encoding": {"x": {"datum": 49.2, "type": "quantitative", "scale": {"domain": [49, 70.5], "nice": false, "zero": false}, "axis": {"values": [49,52,55,58,61,64,67,70], "labels": false, "title": null, "grid": true}}, "x2": {"datum": 54.12},
  "y": {"datum": 341.2, "type": "quantitative", "scale": {"domain": [290, 350], "nice": false, "zero": false}, "axis": {"values": [290,300,310,320,330,340,350], "title": "LST (K)", "labelFlush": false, "labelOverlap": false, "labelPadding": 13, "titlePadding": 0}}, "y2": {"datum": 349.7}}},
{"data": {"name": "labels"}, "transform": [{"filter": "datum.doy == 161"}], "mark": {"type": "text", "fontSize": 17, "font": "Liberation Serif", "color": "#111111"},
 "encoding": {"x": {"datum": 51.66, "type": "quantitative", "scale": {"domain": [49, 70.5], "nice": false, "zero": false}, "axis": {"values": [49,52,55,58,61,64,67,70], "labels": false, "title": null, "grid": true}},
  "y": {"datum": 345.4, "type": "quantitative", "scale": {"domain": [290, 350], "nice": false, "zero": false}, "axis": {"values": [290,300,310,320,330,340,350], "title": "LST (K)", "labelFlush": false, "labelOverlap": false, "labelPadding": 13, "titlePadding": 0}}, "text": {"field": "label"}}}
]
},
{
"width": 378, "height": 171,
"layer": [
{"data": {"name": "lst"}, "transform": [{"filter": "datum.doy == 163 && isValid(datum.e)"}], "mark": {"type": "errorbar", "color": "#333333", "thickness": 1, "ticks": {"size": 7}},
 "encoding": {"x": {"field": "t", "type": "quantitative", "scale": {"domain": [49, 70.5], "nice": false, "zero": false}, "axis": {"values": [49,52,55,58,61,64,67,70], "labels": false, "title": null, "grid": true}},
  "y": {"field": "v", "type": "quantitative", "scale": {"domain": [290, 350], "nice": false, "zero": false}, "axis": {"values": [290,300,310,320,330,340,350], "title": "LST (K)", "labelFlush": false, "labelOverlap": false, "labelPadding": 13, "titlePadding": 0}}, "yError": {"field": "e"}}},
{"data": {"name": "lst"}, "transform": [{"filter": "datum.doy == 163"}], "mark": {"type": "line", "interpolate": "catmull-rom", "strokeWidth": 1.6},
 "encoding": {"x": {"field": "t", "type": "quantitative", "scale": {"domain": [49, 70.5], "nice": false, "zero": false}, "axis": {"values": [49,52,55,58,61,64,67,70], "labels": false, "title": null, "grid": true}},
  "y": {"field": "v", "type": "quantitative", "scale": {"domain": [290, 350], "nice": false, "zero": false}, "axis": {"values": [290,300,310,320,330,340,350], "title": "LST (K)", "labelFlush": false, "labelOverlap": false, "labelPadding": 13, "titlePadding": 0}},
  "color": {"field": "s", "type": "nominal", "legend": null, "scale": {"domain": ["Tc_rad","Tc_cam","Tsun_rad","Tsun_cam","Tsha_rad"], "range": ["#00b050","#00b050","#ffc000","#ffc000","#7b2c2c"]}},
  "strokeDash": {"field": "s", "type": "nominal", "legend": null, "scale": {"domain": ["Tc_rad","Tc_cam","Tsun_rad","Tsun_cam","Tsha_rad"], "range": [[9,3,2,3],[1.5,2],[1,0],[6,4],[4,2]]}}}},
{"data": {"name": "lst"}, "transform": [{"filter": "datum.doy == 163"}], "mark": {"type": "point", "filled": true, "size": 42, "stroke": "#1a1a1a", "strokeWidth": 0.9, "opacity": 1},
 "encoding": {"x": {"field": "t", "type": "quantitative", "scale": {"domain": [49, 70.5], "nice": false, "zero": false}, "axis": {"values": [49,52,55,58,61,64,67,70], "labels": false, "title": null, "grid": true}},
  "y": {"field": "v", "type": "quantitative", "scale": {"domain": [290, 350], "nice": false, "zero": false}, "axis": {"values": [290,300,310,320,330,340,350], "title": "LST (K)", "labelFlush": false, "labelOverlap": false, "labelPadding": 13, "titlePadding": 0}},
  "shape": {"field": "s", "type": "nominal", "legend": null, "scale": {"domain": ["Tc_rad","Tc_cam","Tsun_rad","Tsun_cam","Tsha_rad"], "range": ["square","M-1,-1L1,1M-1,1L1,-1","circle","triangle-up","diamond"]}},
  "fill": {"field": "s", "type": "nominal", "legend": null, "scale": {"domain": ["Tc_rad","Tc_cam","Tsun_rad","Tsun_cam","Tsha_rad"], "range": ["#22a84f","#333333","#ffc000","#ffc000","#6b2525"]}}}},
{"data": {"name": "labels"}, "transform": [{"filter": "datum.doy == 163"}], "mark": {"type": "rect", "fill": "white", "stroke": "#3a3a3a", "strokeWidth": 1.2},
 "encoding": {"x": {"datum": 49.2, "type": "quantitative", "scale": {"domain": [49, 70.5], "nice": false, "zero": false}, "axis": {"values": [49,52,55,58,61,64,67,70], "labels": false, "title": null, "grid": true}}, "x2": {"datum": 54.12},
  "y": {"datum": 341.2, "type": "quantitative", "scale": {"domain": [290, 350], "nice": false, "zero": false}, "axis": {"values": [290,300,310,320,330,340,350], "title": "LST (K)", "labelFlush": false, "labelOverlap": false, "labelPadding": 13, "titlePadding": 0}}, "y2": {"datum": 349.7}}},
{"data": {"name": "labels"}, "transform": [{"filter": "datum.doy == 163"}], "mark": {"type": "text", "fontSize": 17, "font": "Liberation Serif", "color": "#111111"},
 "encoding": {"x": {"datum": 51.66, "type": "quantitative", "scale": {"domain": [49, 70.5], "nice": false, "zero": false}, "axis": {"values": [49,52,55,58,61,64,67,70], "labels": false, "title": null, "grid": true}},
  "y": {"datum": 345.4, "type": "quantitative", "scale": {"domain": [290, 350], "nice": false, "zero": false}, "axis": {"values": [290,300,310,320,330,340,350], "title": "LST (K)", "labelFlush": false, "labelOverlap": false, "labelPadding": 13, "titlePadding": 0}}, "text": {"field": "label"}}}
]
},
{
"width": 378, "height": 171,
"layer": [
{"data": {"name": "shade"}, "transform": [{"filter": "datum.doy == 167"}], "mark": {"type": "rect", "fill": "#ececec"},
 "encoding": {"x": {"field": "t", "type": "quantitative", "scale": {"domain": [49, 70.5], "nice": false, "zero": false}, "axis": {"values": [49,52,55,58,61,64,67,70], "labelExpr": "datum.value < 60 ? '12:' + datum.value : '13:' + (datum.value - 60 < 10 ? '0' : '') + (datum.value - 60)", "labelFlush": false, "labelOverlap": false, "labelPadding": 7, "title": "Hour", "titlePadding": 2, "grid": true}}, "x2": {"field": "t2"},
  "y": {"datum": 290, "type": "quantitative", "scale": {"domain": [290, 350], "nice": false, "zero": false}, "axis": {"values": [290,300,310,320,330,340,350], "title": "LST (K)", "labelFlush": false, "labelOverlap": false, "labelPadding": 13, "titlePadding": 0}}, "y2": {"datum": 350}}},
{"data": {"name": "shade"}, "transform": [{"filter": "datum.doy == 167"}], "mark": {"type": "rule", "color": "#444444", "strokeDash": [1.5, 1.5], "strokeWidth": 1.2},
 "encoding": {"x": {"field": "t", "type": "quantitative", "scale": {"domain": [49, 70.5], "nice": false, "zero": false}, "axis": {"values": [49,52,55,58,61,64,67,70], "labelExpr": "datum.value < 60 ? '12:' + datum.value : '13:' + (datum.value - 60 < 10 ? '0' : '') + (datum.value - 60)", "labelFlush": false, "labelOverlap": false, "labelPadding": 7, "title": "Hour", "titlePadding": 2, "grid": true}},
  "y": {"datum": 290, "type": "quantitative", "scale": {"domain": [290, 350], "nice": false, "zero": false}, "axis": {"values": [290,300,310,320,330,340,350], "title": "LST (K)", "labelFlush": false, "labelOverlap": false, "labelPadding": 13, "titlePadding": 0}}, "y2": {"datum": 350}}},
{"data": {"name": "shade"}, "transform": [{"filter": "datum.doy == 167"}], "mark": {"type": "rule", "color": "#444444", "strokeDash": [1.5, 1.5], "strokeWidth": 1.2},
 "encoding": {"x": {"field": "t2", "type": "quantitative", "scale": {"domain": [49, 70.5], "nice": false, "zero": false}, "axis": {"values": [49,52,55,58,61,64,67,70], "labelExpr": "datum.value < 60 ? '12:' + datum.value : '13:' + (datum.value - 60 < 10 ? '0' : '') + (datum.value - 60)", "labelFlush": false, "labelOverlap": false, "labelPadding": 7, "title": "Hour", "titlePadding": 2, "grid": true}},
  "y": {"datum": 290, "type": "quantitative", "scale": {"domain": [290, 350], "nice": false, "zero": false}, "axis": {"values": [290,300,310,320,330,340,350], "title": "LST (K)", "labelFlush": false, "labelOverlap": false, "labelPadding": 13, "titlePadding": 0}}, "y2": {"datum": 350}}},
{"data": {"name": "lst"}, "transform": [{"filter": "datum.doy == 167 && isValid(datum.e)"}], "mark": {"type": "errorbar", "color": "#333333", "thickness": 1, "ticks": {"size": 7}},
 "encoding": {"x": {"field": "t", "type": "quantitative", "scale": {"domain": [49, 70.5], "nice": false, "zero": false}, "axis": {"values": [49,52,55,58,61,64,67,70], "labelExpr": "datum.value < 60 ? '12:' + datum.value : '13:' + (datum.value - 60 < 10 ? '0' : '') + (datum.value - 60)", "labelFlush": false, "labelOverlap": false, "labelPadding": 7, "title": "Hour", "titlePadding": 2, "grid": true}},
  "y": {"field": "v", "type": "quantitative", "scale": {"domain": [290, 350], "nice": false, "zero": false}, "axis": {"values": [290,300,310,320,330,340,350], "title": "LST (K)", "labelFlush": false, "labelOverlap": false, "labelPadding": 13, "titlePadding": 0}}, "yError": {"field": "e"}}},
{"data": {"name": "lst"}, "transform": [{"filter": "datum.doy == 167"}], "mark": {"type": "line", "interpolate": "catmull-rom", "strokeWidth": 1.6},
 "encoding": {"x": {"field": "t", "type": "quantitative", "scale": {"domain": [49, 70.5], "nice": false, "zero": false}, "axis": {"values": [49,52,55,58,61,64,67,70], "labelExpr": "datum.value < 60 ? '12:' + datum.value : '13:' + (datum.value - 60 < 10 ? '0' : '') + (datum.value - 60)", "labelFlush": false, "labelOverlap": false, "labelPadding": 7, "title": "Hour", "titlePadding": 2, "grid": true}},
  "y": {"field": "v", "type": "quantitative", "scale": {"domain": [290, 350], "nice": false, "zero": false}, "axis": {"values": [290,300,310,320,330,340,350], "title": "LST (K)", "labelFlush": false, "labelOverlap": false, "labelPadding": 13, "titlePadding": 0}},
  "color": {"field": "s", "type": "nominal", "legend": null, "scale": {"domain": ["Tc_rad","Tc_cam","Tsun_rad","Tsun_cam","Tsha_rad"], "range": ["#00b050","#00b050","#ffc000","#ffc000","#7b2c2c"]}},
  "strokeDash": {"field": "s", "type": "nominal", "legend": null, "scale": {"domain": ["Tc_rad","Tc_cam","Tsun_rad","Tsun_cam","Tsha_rad"], "range": [[9,3,2,3],[1.5,2],[1,0],[6,4],[4,2]]}}}},
{"data": {"name": "lst"}, "transform": [{"filter": "datum.doy == 167"}], "mark": {"type": "point", "filled": true, "size": 42, "stroke": "#1a1a1a", "strokeWidth": 0.9, "opacity": 1},
 "encoding": {"x": {"field": "t", "type": "quantitative", "scale": {"domain": [49, 70.5], "nice": false, "zero": false}, "axis": {"values": [49,52,55,58,61,64,67,70], "labelExpr": "datum.value < 60 ? '12:' + datum.value : '13:' + (datum.value - 60 < 10 ? '0' : '') + (datum.value - 60)", "labelFlush": false, "labelOverlap": false, "labelPadding": 7, "title": "Hour", "titlePadding": 2, "grid": true}},
  "y": {"field": "v", "type": "quantitative", "scale": {"domain": [290, 350], "nice": false, "zero": false}, "axis": {"values": [290,300,310,320,330,340,350], "title": "LST (K)", "labelFlush": false, "labelOverlap": false, "labelPadding": 13, "titlePadding": 0}},
  "shape": {"field": "s", "type": "nominal", "legend": null, "scale": {"domain": ["Tc_rad","Tc_cam","Tsun_rad","Tsun_cam","Tsha_rad"], "range": ["square","M-1,-1L1,1M-1,1L1,-1","circle","triangle-up","diamond"]}},
  "fill": {"field": "s", "type": "nominal", "legend": null, "scale": {"domain": ["Tc_rad","Tc_cam","Tsun_rad","Tsun_cam","Tsha_rad"], "range": ["#22a84f","#333333","#ffc000","#ffc000","#6b2525"]}}}},
{"data": {"name": "labels"}, "transform": [{"filter": "datum.doy == 167"}], "mark": {"type": "rect", "fill": "white", "stroke": "#3a3a3a", "strokeWidth": 1.2},
 "encoding": {"x": {"datum": 49.2, "type": "quantitative", "scale": {"domain": [49, 70.5], "nice": false, "zero": false}, "axis": {"values": [49,52,55,58,61,64,67,70], "labelExpr": "datum.value < 60 ? '12:' + datum.value : '13:' + (datum.value - 60 < 10 ? '0' : '') + (datum.value - 60)", "labelFlush": false, "labelOverlap": false, "labelPadding": 7, "title": "Hour", "titlePadding": 2, "grid": true}}, "x2": {"datum": 54.12},
  "y": {"datum": 341.2, "type": "quantitative", "scale": {"domain": [290, 350], "nice": false, "zero": false}, "axis": {"values": [290,300,310,320,330,340,350], "title": "LST (K)", "labelFlush": false, "labelOverlap": false, "labelPadding": 13, "titlePadding": 0}}, "y2": {"datum": 349.7}}},
{"data": {"name": "labels"}, "transform": [{"filter": "datum.doy == 167"}], "mark": {"type": "text", "fontSize": 17, "font": "Liberation Serif", "color": "#111111"},
 "encoding": {"x": {"datum": 51.66, "type": "quantitative", "scale": {"domain": [49, 70.5], "nice": false, "zero": false}, "axis": {"values": [49,52,55,58,61,64,67,70], "labelExpr": "datum.value < 60 ? '12:' + datum.value : '13:' + (datum.value - 60 < 10 ? '0' : '') + (datum.value - 60)", "labelFlush": false, "labelOverlap": false, "labelPadding": 7, "title": "Hour", "titlePadding": 2, "grid": true}},
  "y": {"datum": 345.4, "type": "quantitative", "scale": {"domain": [290, 350], "nice": false, "zero": false}, "axis": {"values": [290,300,310,320,330,340,350], "title": "LST (K)", "labelFlush": false, "labelOverlap": false, "labelPadding": 13, "titlePadding": 0}}, "text": {"field": "label"}}}
]
}
],
"spacing": 1
},
{
"vconcat": [
{
"vconcat": [
{
"width": 380, "height": 171,
"layer": [
{"data": {"name": "lst"}, "transform": [{"filter": "datum.doy == 162 && isValid(datum.e)"}], "mark": {"type": "errorbar", "color": "#333333", "thickness": 1, "ticks": {"size": 7}},
 "encoding": {"x": {"field": "t", "type": "quantitative", "scale": {"domain": [49, 70.5], "nice": false, "zero": false}, "axis": {"values": [49,52,55,58,61,64,67,70], "labels": false, "title": null, "grid": true}},
  "y": {"field": "v", "type": "quantitative", "scale": {"domain": [290, 350], "nice": false, "zero": false}, "axis": {"values": [290,300,310,320,330,340,350], "title": "LST (K)", "labelFlush": false, "labelOverlap": false, "labelPadding": 13, "titlePadding": 0}}, "yError": {"field": "e"}}},
{"data": {"name": "lst"}, "transform": [{"filter": "datum.doy == 162"}], "mark": {"type": "line", "interpolate": "catmull-rom", "strokeWidth": 1.6},
 "encoding": {"x": {"field": "t", "type": "quantitative", "scale": {"domain": [49, 70.5], "nice": false, "zero": false}, "axis": {"values": [49,52,55,58,61,64,67,70], "labels": false, "title": null, "grid": true}},
  "y": {"field": "v", "type": "quantitative", "scale": {"domain": [290, 350], "nice": false, "zero": false}, "axis": {"values": [290,300,310,320,330,340,350], "title": "LST (K)", "labelFlush": false, "labelOverlap": false, "labelPadding": 13, "titlePadding": 0}},
  "color": {"field": "s", "type": "nominal", "legend": null, "scale": {"domain": ["Tc_rad","Tc_cam","Tsun_rad","Tsun_cam","Tsha_rad"], "range": ["#00b050","#00b050","#ffc000","#ffc000","#7b2c2c"]}},
  "strokeDash": {"field": "s", "type": "nominal", "legend": null, "scale": {"domain": ["Tc_rad","Tc_cam","Tsun_rad","Tsun_cam","Tsha_rad"], "range": [[9,3,2,3],[1.5,2],[1,0],[6,4],[4,2]]}}}},
{"data": {"name": "lst"}, "transform": [{"filter": "datum.doy == 162"}], "mark": {"type": "point", "filled": true, "size": 42, "stroke": "#1a1a1a", "strokeWidth": 0.9, "opacity": 1},
 "encoding": {"x": {"field": "t", "type": "quantitative", "scale": {"domain": [49, 70.5], "nice": false, "zero": false}, "axis": {"values": [49,52,55,58,61,64,67,70], "labels": false, "title": null, "grid": true}},
  "y": {"field": "v", "type": "quantitative", "scale": {"domain": [290, 350], "nice": false, "zero": false}, "axis": {"values": [290,300,310,320,330,340,350], "title": "LST (K)", "labelFlush": false, "labelOverlap": false, "labelPadding": 13, "titlePadding": 0}},
  "shape": {"field": "s", "type": "nominal", "legend": null, "scale": {"domain": ["Tc_rad","Tc_cam","Tsun_rad","Tsun_cam","Tsha_rad"], "range": ["square","M-1,-1L1,1M-1,1L1,-1","circle","triangle-up","diamond"]}},
  "fill": {"field": "s", "type": "nominal", "legend": null, "scale": {"domain": ["Tc_rad","Tc_cam","Tsun_rad","Tsun_cam","Tsha_rad"], "range": ["#22a84f","#333333","#ffc000","#ffc000","#6b2525"]}}}},
{"data": {"name": "labels"}, "transform": [{"filter": "datum.doy == 162"}], "mark": {"type": "rect", "fill": "white", "stroke": "#3a3a3a", "strokeWidth": 1.2},
 "encoding": {"x": {"datum": 49.2, "type": "quantitative", "scale": {"domain": [49, 70.5], "nice": false, "zero": false}, "axis": {"values": [49,52,55,58,61,64,67,70], "labels": false, "title": null, "grid": true}}, "x2": {"datum": 54.12},
  "y": {"datum": 341.2, "type": "quantitative", "scale": {"domain": [290, 350], "nice": false, "zero": false}, "axis": {"values": [290,300,310,320,330,340,350], "title": "LST (K)", "labelFlush": false, "labelOverlap": false, "labelPadding": 13, "titlePadding": 0}}, "y2": {"datum": 349.7}}},
{"data": {"name": "labels"}, "transform": [{"filter": "datum.doy == 162"}], "mark": {"type": "text", "fontSize": 17, "font": "Liberation Serif", "color": "#111111"},
 "encoding": {"x": {"datum": 51.66, "type": "quantitative", "scale": {"domain": [49, 70.5], "nice": false, "zero": false}, "axis": {"values": [49,52,55,58,61,64,67,70], "labels": false, "title": null, "grid": true}},
  "y": {"datum": 345.4, "type": "quantitative", "scale": {"domain": [290, 350], "nice": false, "zero": false}, "axis": {"values": [290,300,310,320,330,340,350], "title": "LST (K)", "labelFlush": false, "labelOverlap": false, "labelPadding": 13, "titlePadding": 0}}, "text": {"field": "label"}}}
]
},
{
"width": 380, "height": 171,
"layer": [
{"data": {"name": "lst"}, "transform": [{"filter": "datum.doy == 164 && isValid(datum.e)"}], "mark": {"type": "errorbar", "color": "#333333", "thickness": 1, "ticks": {"size": 7}},
 "encoding": {"x": {"field": "t", "type": "quantitative", "scale": {"domain": [49, 70.5], "nice": false, "zero": false}, "axis": {"values": [49,52,55,58,61,64,67,70], "labelExpr": "datum.value < 60 ? '12:' + datum.value : '13:' + (datum.value - 60 < 10 ? '0' : '') + (datum.value - 60)", "labelFlush": false, "labelOverlap": false, "labelPadding": 7, "title": "Hour", "titlePadding": 2, "grid": true}},
  "y": {"field": "v", "type": "quantitative", "scale": {"domain": [290, 350], "nice": false, "zero": false}, "axis": {"values": [290,300,310,320,330,340,350], "title": "LST (K)", "labelFlush": false, "labelOverlap": false, "labelPadding": 13, "titlePadding": 0}}, "yError": {"field": "e"}}},
{"data": {"name": "lst"}, "transform": [{"filter": "datum.doy == 164"}], "mark": {"type": "line", "interpolate": "catmull-rom", "strokeWidth": 1.6},
 "encoding": {"x": {"field": "t", "type": "quantitative", "scale": {"domain": [49, 70.5], "nice": false, "zero": false}, "axis": {"values": [49,52,55,58,61,64,67,70], "labelExpr": "datum.value < 60 ? '12:' + datum.value : '13:' + (datum.value - 60 < 10 ? '0' : '') + (datum.value - 60)", "labelFlush": false, "labelOverlap": false, "labelPadding": 7, "title": "Hour", "titlePadding": 2, "grid": true}},
  "y": {"field": "v", "type": "quantitative", "scale": {"domain": [290, 350], "nice": false, "zero": false}, "axis": {"values": [290,300,310,320,330,340,350], "title": "LST (K)", "labelFlush": false, "labelOverlap": false, "labelPadding": 13, "titlePadding": 0}},
  "color": {"field": "s", "type": "nominal", "legend": null, "scale": {"domain": ["Tc_rad","Tc_cam","Tsun_rad","Tsun_cam","Tsha_rad"], "range": ["#00b050","#00b050","#ffc000","#ffc000","#7b2c2c"]}},
  "strokeDash": {"field": "s", "type": "nominal", "legend": null, "scale": {"domain": ["Tc_rad","Tc_cam","Tsun_rad","Tsun_cam","Tsha_rad"], "range": [[9,3,2,3],[1.5,2],[1,0],[6,4],[4,2]]}}}},
{"data": {"name": "lst"}, "transform": [{"filter": "datum.doy == 164"}], "mark": {"type": "point", "filled": true, "size": 42, "stroke": "#1a1a1a", "strokeWidth": 0.9, "opacity": 1},
 "encoding": {"x": {"field": "t", "type": "quantitative", "scale": {"domain": [49, 70.5], "nice": false, "zero": false}, "axis": {"values": [49,52,55,58,61,64,67,70], "labelExpr": "datum.value < 60 ? '12:' + datum.value : '13:' + (datum.value - 60 < 10 ? '0' : '') + (datum.value - 60)", "labelFlush": false, "labelOverlap": false, "labelPadding": 7, "title": "Hour", "titlePadding": 2, "grid": true}},
  "y": {"field": "v", "type": "quantitative", "scale": {"domain": [290, 350], "nice": false, "zero": false}, "axis": {"values": [290,300,310,320,330,340,350], "title": "LST (K)", "labelFlush": false, "labelOverlap": false, "labelPadding": 13, "titlePadding": 0}},
  "shape": {"field": "s", "type": "nominal", "legend": null, "scale": {"domain": ["Tc_rad","Tc_cam","Tsun_rad","Tsun_cam","Tsha_rad"], "range": ["square","M-1,-1L1,1M-1,1L1,-1","circle","triangle-up","diamond"]}},
  "fill": {"field": "s", "type": "nominal", "legend": null, "scale": {"domain": ["Tc_rad","Tc_cam","Tsun_rad","Tsun_cam","Tsha_rad"], "range": ["#22a84f","#333333","#ffc000","#ffc000","#6b2525"]}}}},
{"data": {"name": "labels"}, "transform": [{"filter": "datum.doy == 164"}], "mark": {"type": "rect", "fill": "white", "stroke": "#3a3a3a", "strokeWidth": 1.2},
 "encoding": {"x": {"datum": 49.2, "type": "quantitative", "scale": {"domain": [49, 70.5], "nice": false, "zero": false}, "axis": {"values": [49,52,55,58,61,64,67,70], "labelExpr": "datum.value < 60 ? '12:' + datum.value : '13:' + (datum.value - 60 < 10 ? '0' : '') + (datum.value - 60)", "labelFlush": false, "labelOverlap": false, "labelPadding": 7, "title": "Hour", "titlePadding": 2, "grid": true}}, "x2": {"datum": 54.12},
  "y": {"datum": 341.2, "type": "quantitative", "scale": {"domain": [290, 350], "nice": false, "zero": false}, "axis": {"values": [290,300,310,320,330,340,350], "title": "LST (K)", "labelFlush": false, "labelOverlap": false, "labelPadding": 13, "titlePadding": 0}}, "y2": {"datum": 349.7}}},
{"data": {"name": "labels"}, "transform": [{"filter": "datum.doy == 164"}], "mark": {"type": "text", "fontSize": 17, "font": "Liberation Serif", "color": "#111111"},
 "encoding": {"x": {"datum": 51.66, "type": "quantitative", "scale": {"domain": [49, 70.5], "nice": false, "zero": false}, "axis": {"values": [49,52,55,58,61,64,67,70], "labelExpr": "datum.value < 60 ? '12:' + datum.value : '13:' + (datum.value - 60 < 10 ? '0' : '') + (datum.value - 60)", "labelFlush": false, "labelOverlap": false, "labelPadding": 7, "title": "Hour", "titlePadding": 2, "grid": true}},
  "y": {"datum": 345.4, "type": "quantitative", "scale": {"domain": [290, 350], "nice": false, "zero": false}, "axis": {"values": [290,300,310,320,330,340,350], "title": "LST (K)", "labelFlush": false, "labelOverlap": false, "labelPadding": 13, "titlePadding": 0}}, "text": {"field": "label"}}}
]
}
],
"spacing": 3
},
{
"width": 393, "height": 70,
"data": {"name": "legend"},
"encoding": {
"x": {"field": "var", "type": "nominal", "scale": {"type": "point", "domain": ["Tc","Tsun","Tsha"], "padding": 0.51, "align": 0.19}, "axis": null},
"y": {"field": "src", "type": "nominal", "scale": {"type": "point", "domain": ["rad","cam"], "padding": 0.333, "align": 0.4}, "axis": null}
},
"layer": [
{"mark": {"type": "rule", "xOffset": -20, "x2Offset": 20, "strokeWidth": 1.6},
 "encoding": {"x2": {"field": "var"},
  "color": {"field": "s", "type": "nominal", "legend": null, "scale": {"domain": ["Tc_rad","Tc_cam","Tsun_rad","Tsun_cam","Tsha_rad"], "range": ["#2fb24f","#2fb24f","#ffc000","#ffc000","#a0401a"]}},
  "strokeDash": {"field": "s", "type": "nominal", "legend": null, "scale": {"domain": ["Tc_rad","Tc_cam","Tsun_rad","Tsun_cam","Tsha_rad"], "range": [[12,6],[1.5,2],[1,0],[6,4],[4,2]]}}}},
{"mark": {"type": "point", "filled": true, "size": 45, "stroke": "#222222", "strokeWidth": 0.9, "opacity": 1},
 "encoding": {"shape": {"field": "s", "type": "nominal", "legend": null, "scale": {"domain": ["Tc_rad","Tc_cam","Tsun_rad","Tsun_cam","Tsha_rad"], "range": ["square","M-1,-1L1,1M-1,1L1,-1","circle","triangle-up","diamond"]}},
  "fill": {"field": "s", "type": "nominal", "legend": null, "scale": {"domain": ["Tc_rad","Tc_cam","Tsun_rad","Tsun_cam","Tsha_rad"], "range": ["#4a7f3a","#333333","#f07d2d","#f07d2d","#8b3a10"]}}}},
{"mark": {"type": "text", "align": "left", "baseline": "middle", "dx": 30, "fontSize": 21, "font": "Liberation Serif", "color": "#262626"}, "encoding": {"text": {"field": "main"}}},
{"mark": {"type": "text", "align": "left", "baseline": "middle", "dx": 43, "dy": 7, "fontSize": 12, "font": "Liberation Serif", "color": "#262626"}, "encoding": {"text": {"field": "sub"}}}
]
}
],
"spacing": 31,
"resolve": {"scale": {"color": "independent", "fill": "independent", "shape": "independent", "strokeDash": "independent"}}
}
],
"spacing": 20,
"resolve": {"scale": {"color": "independent", "fill": "independent", "shape": "independent", "strokeDash": "independent"}},
"config": {
"font": "Liberation Serif",
"view": {"stroke": "#595959", "strokeWidth": 1.5},
"axis": {"labelFont": "Liberation Serif", "labelFontSize": 16, "labelColor": "#333333", "titleFont": "Liberation Serif", "titleFontSize": 18, "titleFontWeight": "normal", "titleColor": "#333333", "gridColor": "#d4d4d4", "gridDash": [4, 3], "gridWidth": 1, "domain": false, "ticks": false, "tickSize": 0},
"legend": {"disable": true}
}
}
